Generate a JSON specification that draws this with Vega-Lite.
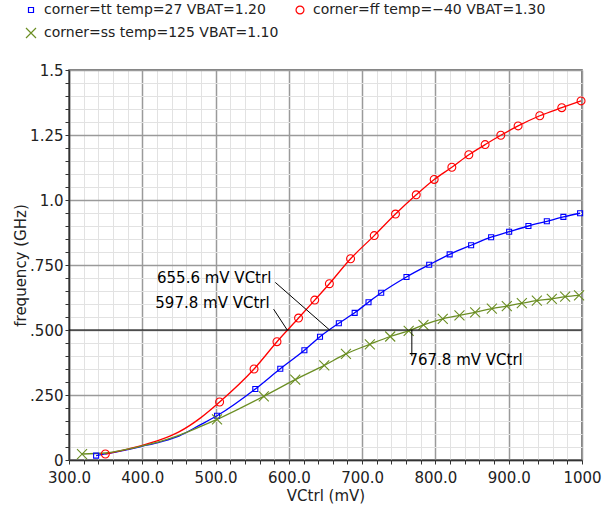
{
  "$schema": "https://vega.github.io/schema/vega-lite/v6.json",
  "width": 513,
  "height": 390,
  "autosize": {"type": "none"},
  "padding": {"left": 69, "top": 70, "right": 33, "bottom": 46},
  "background": "white",
  "datasets": {
    "curves": [
      {"s": "corner=tt temp=27 VBAT=1.20", "v": 337, "f": 0.017, "m": 1},
      {"s": "corner=tt temp=27 VBAT=1.20", "v": 370, "f": 0.034, "m": 0},
      {"s": "corner=tt temp=27 VBAT=1.20", "v": 400, "f": 0.053, "m": 0},
      {"s": "corner=tt temp=27 VBAT=1.20", "v": 425, "f": 0.070, "m": 0},
      {"s": "corner=tt temp=27 VBAT=1.20", "v": 450, "f": 0.092, "m": 0},
      {"s": "corner=tt temp=27 VBAT=1.20", "v": 479, "f": 0.135, "m": 0},
      {"s": "corner=tt temp=27 VBAT=1.20", "v": 502, "f": 0.170, "m": 1},
      {"s": "corner=tt temp=27 VBAT=1.20", "v": 554.2, "f": 0.273, "m": 1},
      {"s": "corner=tt temp=27 VBAT=1.20", "v": 588.3, "f": 0.351, "m": 1},
      {"s": "corner=tt temp=27 VBAT=1.20", "v": 621.2, "f": 0.422, "m": 1},
      {"s": "corner=tt temp=27 VBAT=1.20", "v": 642.5, "f": 0.474, "m": 1},
      {"s": "corner=tt temp=27 VBAT=1.20", "v": 668.2, "f": 0.526, "m": 1},
      {"s": "corner=tt temp=27 VBAT=1.20", "v": 689.8, "f": 0.566, "m": 1},
      {"s": "corner=tt temp=27 VBAT=1.20", "v": 708.7, "f": 0.607, "m": 1},
      {"s": "corner=tt temp=27 VBAT=1.20", "v": 726, "f": 0.643, "m": 1},
      {"s": "corner=tt temp=27 VBAT=1.20", "v": 760.5, "f": 0.704, "m": 1},
      {"s": "corner=tt temp=27 VBAT=1.20", "v": 791.5, "f": 0.751, "m": 1},
      {"s": "corner=tt temp=27 VBAT=1.20", "v": 819.4, "f": 0.791, "m": 1},
      {"s": "corner=tt temp=27 VBAT=1.20", "v": 848.7, "f": 0.826, "m": 1},
      {"s": "corner=tt temp=27 VBAT=1.20", "v": 876, "f": 0.857, "m": 1},
      {"s": "corner=tt temp=27 VBAT=1.20", "v": 900.6, "f": 0.878, "m": 1},
      {"s": "corner=tt temp=27 VBAT=1.20", "v": 926.9, "f": 0.900, "m": 1},
      {"s": "corner=tt temp=27 VBAT=1.20", "v": 952, "f": 0.918, "m": 1},
      {"s": "corner=tt temp=27 VBAT=1.20", "v": 974.6, "f": 0.935, "m": 1},
      {"s": "corner=tt temp=27 VBAT=1.20", "v": 997.4, "f": 0.949, "m": 1},

      {"s": "corner=ff temp=−40 VBAT=1.30", "v": 349.6, "f": 0.023, "m": 1},
      {"s": "corner=ff temp=−40 VBAT=1.30", "v": 370, "f": 0.035, "m": 0},
      {"s": "corner=ff temp=−40 VBAT=1.30", "v": 400, "f": 0.056, "m": 0},
      {"s": "corner=ff temp=−40 VBAT=1.30", "v": 425, "f": 0.078, "m": 0},
      {"s": "corner=ff temp=−40 VBAT=1.30", "v": 450, "f": 0.108, "m": 0},
      {"s": "corner=ff temp=−40 VBAT=1.30", "v": 480, "f": 0.163, "m": 0},
      {"s": "corner=ff temp=−40 VBAT=1.30", "v": 505.5, "f": 0.223, "m": 1},
      {"s": "corner=ff temp=−40 VBAT=1.30", "v": 552.5, "f": 0.350, "m": 1},
      {"s": "corner=ff temp=−40 VBAT=1.30", "v": 583.8, "f": 0.455, "m": 1},
      {"s": "corner=ff temp=−40 VBAT=1.30", "v": 613.2, "f": 0.546, "m": 1},
      {"s": "corner=ff temp=−40 VBAT=1.30", "v": 635.3, "f": 0.615, "m": 1},
      {"s": "corner=ff temp=−40 VBAT=1.30", "v": 655.3, "f": 0.678, "m": 1},
      {"s": "corner=ff temp=−40 VBAT=1.30", "v": 684.2, "f": 0.774, "m": 1},
      {"s": "corner=ff temp=−40 VBAT=1.30", "v": 716.5, "f": 0.863, "m": 1},
      {"s": "corner=ff temp=−40 VBAT=1.30", "v": 745.5, "f": 0.946, "m": 1},
      {"s": "corner=ff temp=−40 VBAT=1.30", "v": 773.8, "f": 1.020, "m": 1},
      {"s": "corner=ff temp=−40 VBAT=1.30", "v": 798.3, "f": 1.079, "m": 1},
      {"s": "corner=ff temp=−40 VBAT=1.30", "v": 822.4, "f": 1.126, "m": 1},
      {"s": "corner=ff temp=−40 VBAT=1.30", "v": 845.6, "f": 1.174, "m": 1},
      {"s": "corner=ff temp=−40 VBAT=1.30", "v": 867.8, "f": 1.213, "m": 1},
      {"s": "corner=ff temp=−40 VBAT=1.30", "v": 889.2, "f": 1.249, "m": 1},
      {"s": "corner=ff temp=−40 VBAT=1.30", "v": 912.8, "f": 1.285, "m": 1},
      {"s": "corner=ff temp=−40 VBAT=1.30", "v": 942.4, "f": 1.324, "m": 1},
      {"s": "corner=ff temp=−40 VBAT=1.30", "v": 972.4, "f": 1.355, "m": 1},
      {"s": "corner=ff temp=−40 VBAT=1.30", "v": 998.7, "f": 1.381, "m": 1},

      {"s": "corner=ss temp=125 VBAT=1.10", "v": 317.8, "f": 0.023, "m": 1},
      {"s": "corner=ss temp=125 VBAT=1.10", "v": 350, "f": 0.027, "m": 0},
      {"s": "corner=ss temp=125 VBAT=1.10", "v": 370, "f": 0.036, "m": 0},
      {"s": "corner=ss temp=125 VBAT=1.10", "v": 400, "f": 0.054, "m": 0},
      {"s": "corner=ss temp=125 VBAT=1.10", "v": 425, "f": 0.072, "m": 0},
      {"s": "corner=ss temp=125 VBAT=1.10", "v": 450, "f": 0.095, "m": 0},
      {"s": "corner=ss temp=125 VBAT=1.10", "v": 479, "f": 0.128, "m": 0},
      {"s": "corner=ss temp=125 VBAT=1.10", "v": 502, "f": 0.156, "m": 1},
      {"s": "corner=ss temp=125 VBAT=1.10", "v": 565.8, "f": 0.245, "m": 1},
      {"s": "corner=ss temp=125 VBAT=1.10", "v": 608.7, "f": 0.309, "m": 1},
      {"s": "corner=ss temp=125 VBAT=1.10", "v": 648.3, "f": 0.364, "m": 1},
      {"s": "corner=ss temp=125 VBAT=1.10", "v": 677.9, "f": 0.408, "m": 1},
      {"s": "corner=ss temp=125 VBAT=1.10", "v": 710.5, "f": 0.445, "m": 1},
      {"s": "corner=ss temp=125 VBAT=1.10", "v": 738.3, "f": 0.475, "m": 1},
      {"s": "corner=ss temp=125 VBAT=1.10", "v": 763.5, "f": 0.497, "m": 1},
      {"s": "corner=ss temp=125 VBAT=1.10", "v": 783.7, "f": 0.520, "m": 1},
      {"s": "corner=ss temp=125 VBAT=1.10", "v": 810, "f": 0.543, "m": 1},
      {"s": "corner=ss temp=125 VBAT=1.10", "v": 832.8, "f": 0.556, "m": 1},
      {"s": "corner=ss temp=125 VBAT=1.10", "v": 854.2, "f": 0.568, "m": 1},
      {"s": "corner=ss temp=125 VBAT=1.10", "v": 877, "f": 0.582, "m": 1},
      {"s": "corner=ss temp=125 VBAT=1.10", "v": 897.4, "f": 0.592, "m": 1},
      {"s": "corner=ss temp=125 VBAT=1.10", "v": 917.9, "f": 0.603, "m": 1},
      {"s": "corner=ss temp=125 VBAT=1.10", "v": 938.4, "f": 0.613, "m": 1},
      {"s": "corner=ss temp=125 VBAT=1.10", "v": 958.8, "f": 0.620, "m": 1},
      {"s": "corner=ss temp=125 VBAT=1.10", "v": 977, "f": 0.628, "m": 1},
      {"s": "corner=ss temp=125 VBAT=1.10", "v": 996, "f": 0.633, "m": 1}
    ],
    "leaders": [
      {"x1": 581.5, "y1": 0.683, "x2": 655.6, "y2": 0.5},
      {"x1": 579.2, "y1": 0.580, "x2": 597.8, "y2": 0.5},
      {"x1": 767.8, "y1": 0.5, "x2": 767.8, "y2": 0.4}
    ],
    "labels": [
      {"x": 420.1, "y": 0.699, "t": "655.6 mV VCtrl"},
      {"x": 417.8, "y": 0.603, "t": "597.8 mV VCtrl"},
      {"x": 763.2, "y": 0.385, "t": "767.8 mV VCtrl"}
    ],
    "ref": [{"y": 0.5}]
  },
  "resolve": {"axis": {"x": "independent", "y": "independent"}},
  "layer": [
    {
      "data": {"name": "curves"},
      "mark": {"type": "line", "interpolate": "monotone", "strokeWidth": 1.3, "clip": true},
      "encoding": {
        "x": {
          "field": "v", "type": "quantitative",
          "scale": {"domain": [300, 1000], "nice": false, "zero": false},
          "axis": {
            "orient": "bottom",
            "title": "VCtrl (mV)",
            "values": [300,320,340,360,380,400,420,440,460,480,500,520,540,560,580,600,620,640,660,680,700,720,740,760,780,800,820,840,860,880,900,920,940,960,980,1000],
            "labelExpr": "datum.value % 100 === 0 ? (datum.value === 1000 ? '1000' : format(datum.value, '.1f')) : ''",
            "labelOverlap": false,
            "labelFlush": false,
            "labelPadding": 6,
            "grid": true,
            "gridColor": "#e2e2e2",
            "gridWidth": 1,
            "tickSize": 4,
            "titleBaseline": "alphabetic",
            "titleY": 40
          }
        },
        "y": {
          "field": "f", "type": "quantitative",
          "scale": {"domain": [0, 1.5], "nice": false},
          "axis": {
            "orient": "left",
            "title": "frequency (GHz)",
            "values": [0,0.05,0.1,0.15,0.2,0.25,0.3,0.35,0.4,0.45,0.5,0.55,0.6,0.65,0.7,0.75,0.8,0.85,0.9,0.95,1,1.05,1.1,1.15,1.2,1.25,1.3,1.35,1.4,1.45,1.5],
            "labelExpr": "datum.value === 0 ? '0' : datum.value === 0.25 ? '.250' : datum.value === 0.5 ? '.500' : datum.value === 0.75 ? '.750' : datum.value === 1 ? '1.0' : datum.value === 1.25 ? '1.25' : datum.value === 1.5 ? '1.5' : ''",
            "labelOverlap": false,
            "labelFlush": false,
            "labelPadding": 2,
            "grid": true,
            "gridColor": "#e2e2e2",
            "gridWidth": 1,
            "tickSize": 4,
            "titleBaseline": "alphabetic",
            "titleX": -44
          }
        },
        "color": {
          "field": "s", "type": "nominal", "title": null,
          "scale": {
            "domain": ["corner=tt temp=27 VBAT=1.20", "corner=ff temp=−40 VBAT=1.30", "corner=ss temp=125 VBAT=1.10"],
            "range": ["#0000ff", "#ff0000", "#6b8e23"]
          }
        },
        "detail": {"field": "s"}
      }
    },
    {
      "data": {"name": "curves"},
      "transform": [{"filter": "datum.m == 1"}],
      "mark": {"type": "point", "filled": false, "strokeWidth": 1.1, "opacity": 1},
      "encoding": {
        "x": {
          "field": "v", "type": "quantitative",
          "axis": {
            "orient": "top", "title": null,
            "values": [300,400,500,600,700,800,900,1000],
            "labels": false, "ticks": false, "domain": false,
            "grid": true, "gridColor": "#9a9a9a", "gridWidth": 1.5
          }
        },
        "y": {
          "field": "f", "type": "quantitative",
          "axis": {
            "orient": "right", "title": null,
            "values": [0,0.25,0.5,0.75,1,1.25,1.5],
            "labels": false, "ticks": false, "domain": false,
            "grid": true, "gridColor": "#9a9a9a", "gridWidth": 1.5
          }
        },
        "color": {"field": "s", "type": "nominal", "title": null},
        "shape": {
          "field": "s", "type": "nominal", "title": null,
          "scale": {
            "domain": ["corner=tt temp=27 VBAT=1.20", "corner=ff temp=−40 VBAT=1.30", "corner=ss temp=125 VBAT=1.10"],
            "range": ["square", "circle", "M-1,-1L1,1M1,-1L-1,1"]
          }
        },
        "size": {
          "field": "s", "type": "nominal", "title": null,
          "scale": {
            "domain": ["corner=tt temp=27 VBAT=1.20", "corner=ff temp=−40 VBAT=1.30", "corner=ss temp=125 VBAT=1.10"],
            "range": [25, 100, 64]
          }
        }
      }
    },
    {
      "data": {"name": "ref"},
      "mark": {"type": "rule", "color": "black", "strokeWidth": 1},
      "encoding": {"y": {"field": "y", "type": "quantitative", "axis": null}}
    },
    {
      "data": {"name": "leaders"},
      "mark": {"type": "rule", "color": "black", "strokeWidth": 1},
      "encoding": {
        "x": {"field": "x1", "type": "quantitative", "axis": null},
        "y": {"field": "y1", "type": "quantitative", "axis": null},
        "x2": {"field": "x2"},
        "y2": {"field": "y2"}
      }
    },
    {
      "data": {"name": "labels"},
      "mark": {"type": "text", "align": "left", "baseline": "middle", "font": "DejaVu Sans", "fontSize": 15, "color": "black"},
      "encoding": {
        "x": {"field": "x", "type": "quantitative", "axis": null},
        "y": {"field": "y", "type": "quantitative", "axis": null},
        "text": {"field": "t"}
      }
    }
  ],
  "config": {
    "font": "DejaVu Sans",
    "view": {"stroke": "#555555", "strokeWidth": 1.5},
    "axis": {
      "labelFont": "DejaVu Sans",
      "labelFontSize": 15,
      "labelColor": "#222222",
      "titleFont": "DejaVu Sans",
      "titleFontSize": 15,
      "titleFontWeight": "normal",
      "titleColor": "#222222",
      "domainColor": "#333333",
      "tickColor": "#333333",
      "domainWidth": 1.5
    },
    "legend": {
      "orient": "none",
      "legendX": -45,
      "legendY": -67,
      "columns": 2,
      "direction": "horizontal",
      "labelFont": "DejaVu Sans",
      "labelFontSize": 14,
      "labelColor": "#222222",
      "labelLimit": 400,
      "labelOffset": 6,
      "columnPadding": 14,
      "rowPadding": 8,
      "symbolStrokeWidth": 1.2
    }
  }
}
